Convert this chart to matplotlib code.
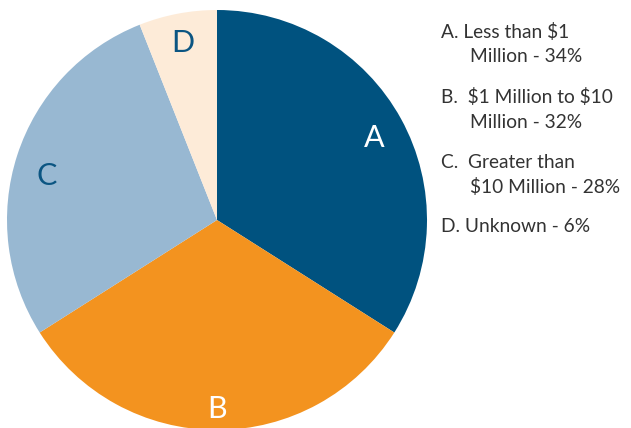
import matplotlib.pyplot as plt

# share of respondents by revenue band
labels = ['A', 'B', 'C', 'D']
shares = [34, 32, 28, 6]
colors = ['#00527f', '#f3931f', '#98b8d2', '#fdebd8']
label_colors = ['white', 'white', '#0b5582', '#0b5582']

legend_lines = [
    ('A. Less than \\$1', 'Million - 34%'),
    ('B.  \\$1 Million to \\$10', 'Million - 32%'),
    ('C.  Greater than', '\\$10 Million - 28%'),
    ('D. Unknown - 6%', None),
]

plt.rcParams['font.family'] = ['Lato', 'DejaVu Sans']

W, H = 631, 428
fig = plt.figure(figsize=(W / 100, H / 100), dpi=100)

# pie centred at (217, 220) px with radius 210 px
cx, cy, r = 217, 220, 210
ax = fig.add_axes([(cx - r) / W, (H - cy - r) / H, 2 * r / W, 2 * r / H])
wedges, texts = ax.pie(shares, labels=labels, colors=colors, startangle=90,
                       counterclock=False, labeldistance=0.86,
                       textprops={'fontsize': 22})
for t, c in zip(texts, label_colors):
    t.set_color(c)
    t.set_ha('center')
    t.set_va('center')
texts[1].set_position((0, -0.9))
texts[2].set_position((-0.81, 0.21))
texts[0].set_position((0.75, 0.39))
ax.set_xlim(-1, 1)
ax.set_ylim(-1, 1)
ax.axis('off')

# legend text on the right
y = 32
for first, second in legend_lines:
    fig.text(441 / W, 1 - y / H, first, fontsize=13.8, color='#333333', va='center')
    if second:
        y += 25
        fig.text(470 / W, 1 - y / H, second, fontsize=13.8, color='#333333', va='center')
    y += 40 if second else 0

fig.savefig('out.png', dpi=100)
